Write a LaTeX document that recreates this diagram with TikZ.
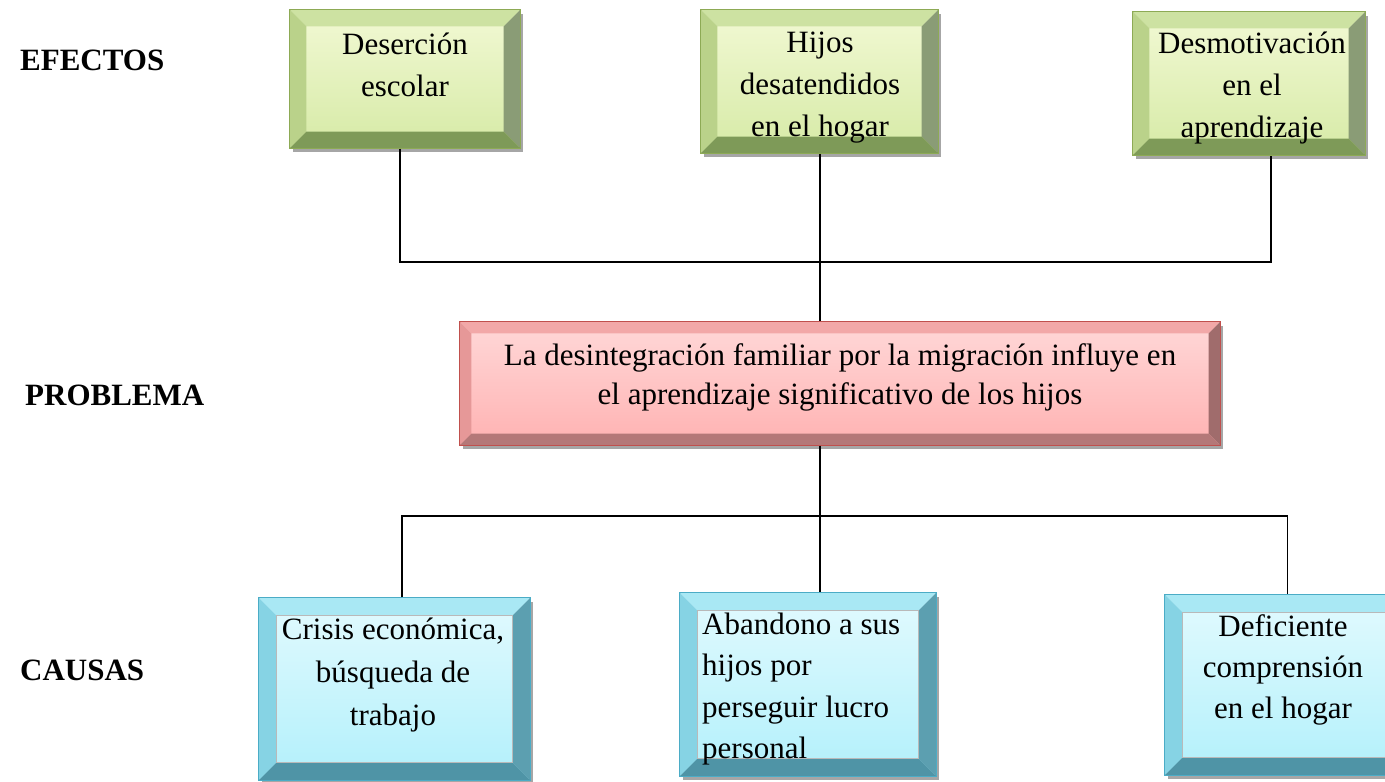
\documentclass[tikz,border=0pt]{standalone}
\usepackage{fontspec}
\setmainfont{Liberation Serif}
\usetikzlibrary{shadows}
\definecolor{gface}{HTML}{F2F9D4}
\definecolor{gfaceb}{HTML}{D6EAA6}
\definecolor{gborder}{HTML}{8DAA55}
\definecolor{gtop}{HTML}{CDE2A2}
\definecolor{gleft}{HTML}{BAD28A}
\definecolor{gright}{HTML}{8A9C76}
\definecolor{gbot}{HTML}{7E9A58}
\definecolor{rface}{HTML}{FFD8D8}
\definecolor{rfaceb}{HTML}{FFB2B2}
\definecolor{rborder}{HTML}{C0504D}
\definecolor{rtop}{HTML}{F2A8A8}
\definecolor{rleft}{HTML}{E69898}
\definecolor{rright}{HTML}{A06C6C}
\definecolor{rbot}{HTML}{B47878}
\definecolor{bface}{HTML}{E2FAFE}
\definecolor{bfaceb}{HTML}{B2F0FB}
\definecolor{bborder}{HTML}{4BACC6}
\definecolor{btop}{HTML}{A9E8F4}
\definecolor{bleft}{HTML}{86D3E4}
\definecolor{bright}{HTML}{5C9FB0}
\definecolor{bbot}{HTML}{4F94A6}
\newcommand\bevelbox[6]{%
  \fill[#3] (#1.north west) -- (#1.north east) -- ([shift={(-#2,#2)}]#1.north east) -- ([shift={(#2,#2)}]#1.north west) -- cycle;
  \fill[#4] (#1.north west) -- ([shift={(#2,#2)}]#1.north west) -- ([shift={(#2,-#2)}]#1.south west) -- (#1.south west) -- cycle;
  \fill[#5] (#1.north east) -- (#1.south east) -- ([shift={(-#2,-#2)}]#1.south east) -- ([shift={(-#2,#2)}]#1.north east) -- cycle;
  \fill[#6] (#1.south west) -- (#1.south east) -- ([shift={(-#2,-#2)}]#1.south east) -- ([shift={(#2,-#2)}]#1.south west) -- cycle;
}
\tikzset{
  box/.style={rectangle, inner sep=0pt, line width=1.2pt,
    drop shadow={shadow xshift=3pt, shadow yshift=-4pt, fill=black, opacity=.35}},
  gbox/.style={box, draw=gborder, top color=gface, bottom color=gfaceb},
  rbox/.style={box, draw=rborder, top color=rface, bottom color=rfaceb},
  bbox/.style={box, draw=bborder, top color=bface, bottom color=bfaceb},
  txt/.style={align=center, inner sep=0pt, font=\fontsize{31}{42}\selectfont},
  lbl/.style={anchor=west, inner sep=0pt, font=\fontsize{31}{37}\selectfont\bfseries},
  conn/.style={line width=1.5pt, black}
}
\begin{document}
\begin{tikzpicture}[x=1pt, y=-1pt]
\useasboundingbox (0,0) rectangle (1385,782);
\fill[white] (0,0) rectangle (1385,782);

% effects
\node[gbox, minimum width=230pt, minimum height=138pt] (e1) at (405,79) {};
\bevelbox{e1}{17}{gtop}{gleft}{gright}{gbot}
\draw[gborder, line width=1.2pt] (e1.north west) rectangle (e1.south east);
\node[gbox, minimum width=237pt, minimum height=143pt] (e2) at (819.5,81.5) {};
\bevelbox{e2}{17}{gtop}{gleft}{gright}{gbot}
\draw[gborder, line width=1.2pt] (e2.north west) rectangle (e2.south east);
\node[gbox, minimum width=232pt, minimum height=143pt] (e3) at (1249,83.5) {};
\bevelbox{e3}{17}{gtop}{gleft}{gright}{gbot}
\draw[gborder, line width=1.2pt] (e3.north west) rectangle (e3.south east);

\node[txt] (t1) at (405,65) {Deserción\\escolar};
\node[txt] (t2) at (820,88) {Hijos\\desatendidos\\en el hogar};
\node[txt] (t3) at (1252,88) {Desmotivación\\en el\\aprendizaje};

% problem
\node[rbox, minimum width=760pt, minimum height=123pt] (p) at (840,383.5) {};
\bevelbox{p}{12}{rtop}{rleft}{rright}{rbot}
\draw[rborder, line width=1.2pt] (p.north west) rectangle (p.south east);
\node[txt, font=\fontsize{31}{39}\selectfont] (tp) at (840,377) {La desintegración familiar por la migración influye en\\el aprendizaje significativo de los hijos};

% causes
\node[bbox, minimum width=271pt, minimum height=182pt] (c1) at (394.5,689) {};
\bevelbox{c1}{18}{btop}{bleft}{bright}{bbot}
\draw[bborder, line width=1.2pt] (c1.north west) rectangle (c1.south east);
\draw[gray!55, line width=0.8pt] ([shift={(18,18)}]c1.north west) rectangle ([shift={(-18,-18)}]c1.south east);
\node[bbox, minimum width=256pt, minimum height=183pt] (c2) at (808,684.5) {};
\bevelbox{c2}{18}{btop}{bleft}{bright}{bbot}
\draw[bborder, line width=1.2pt] (c2.north west) rectangle (c2.south east);
\draw[gray!55, line width=0.8pt] ([shift={(18,18)}]c2.north west) rectangle ([shift={(-18,-18)}]c2.south east);
\node[bbox, minimum width=245pt, minimum height=180pt] (c3) at (1287.5,685) {};
\bevelbox{c3}{18}{btop}{bleft}{bright}{bbot}
\draw[bborder, line width=1.2pt] (c3.north west) rectangle (c3.south east);
\draw[gray!55, line width=0.8pt] ([shift={(18,18)}]c3.north west) rectangle ([shift={(-18,-18)}]c3.south east);

\node[txt, font=\fontsize{31}{43}\selectfont] (tc1) at (393,675) {Crisis económica,\\búsqueda de\\trabajo};
\node[txt, align=left, anchor=west, font=\fontsize{31}{41.5}\selectfont] (tc2) at (702,689) {Abandono a sus\\hijos por\\perseguir lucro\\personal};
\node[txt, font=\fontsize{31}{41}\selectfont] (tc3) at (1283,670) {Deficiente\\comprensión\\en el hogar};

% side labels
\node[lbl] (le) at (20,60) {EFECTOS};
\node[lbl] (lp) at (25,395) {PROBLEMA};
\node[lbl] (lc) at (20,670) {CAUSAS};

% connectors
\coordinate (jt) at (820,262);
\coordinate (jb) at (820,516);
\draw[conn] ([xshift=-5pt]e1.south) |- (jt) -| ([xshift=22pt]e3.south);
\draw[conn] (jt |- e2.south) -- (jt |- p.north);
\draw[conn] (jb |- p.south) -- (jb |- c2.north);
\draw[conn] ([xshift=7.5pt]c1.north) |- (jb) -| (c3.north);
\end{tikzpicture}
\end{document}
